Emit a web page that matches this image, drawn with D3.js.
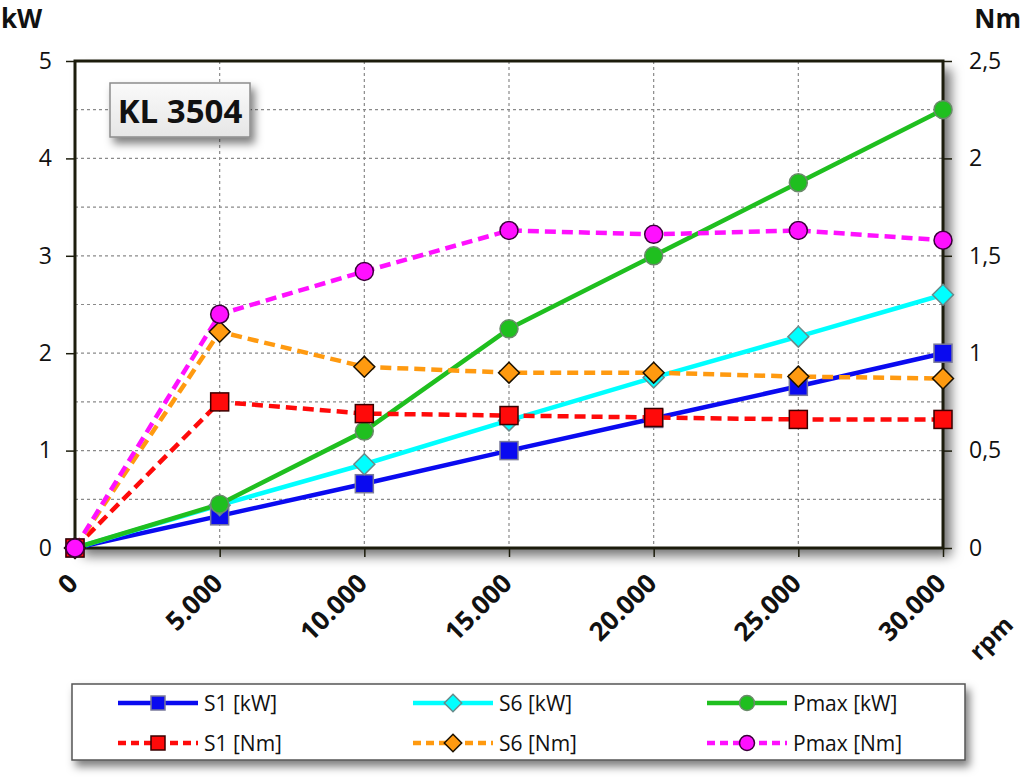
<!DOCTYPE html>
<html><head><meta charset="utf-8">
<script src="https://cdn.jsdelivr.net/npm/d3@7"></script>
<style>html,body{margin:0;padding:0;background:#fff;}svg{display:block;}</style>
</head><body>
<svg id="c" width="1024" height="783"></svg>
<script>
const rpm = [0, 5000, 10000, 15000, 20000, 25000, 30000];
const xTicks = [0, 5000, 10000, 15000, 20000, 25000, 30000];
const xTickLabels = ["0", "5.000", "10.000", "15.000", "20.000", "25.000", "30.000"];
const kwTicks = [0, 1, 2, 3, 4, 5];
const nmTicks = [0, 0.5, 1, 1.5, 2, 2.5];
const nmTickLabels = ["0", "0,5", "1", "1,5", "2", "2,5"];
const s1kW = [0, 0.33, 0.66, 1.0, 1.33, 1.66, 2.0];
const s6kW = [0, 0.44, 0.86, 1.31, 1.75, 2.17, 2.6];
const pmaxkW = [0, 0.45, 1.2, 2.25, 3.0, 3.75, 4.5];
const s1Nm = [0, 0.75, 0.69, 0.68, 0.67, 0.66, 0.66];
const s6Nm = [0, 1.11, 0.93, 0.9, 0.9, 0.88, 0.87];
const pmaxNm = [0, 1.2, 1.42, 1.63, 1.61, 1.63, 1.58];
const title = "KL 3504";

const series = [
  {name:"S1 [kW]", values:s1kW, axis:"kw", color:"#0a0af0", dash:null, marker:"square", stroke:"#7a7a9a"},
  {name:"S6 [kW]", values:s6kW, axis:"kw", color:"#00ffff", dash:null, marker:"diamond", stroke:"#6a8a8a"},
  {name:"Pmax [kW]", values:pmaxkW, axis:"kw", color:"#1fbf1f", dash:null, marker:"circle", stroke:"#6a8a6a"},
  {name:"S1 [Nm]", values:s1Nm, axis:"nm", color:"#ff0a0a", dash:"11,6", marker:"square", stroke:"#3a0000"},
  {name:"S6 [Nm]", values:s6Nm, axis:"nm", color:"#ff9a10", dash:"11,6", marker:"diamond", stroke:"#1a1000"},
  {name:"Pmax [Nm]", values:pmaxNm, axis:"nm", color:"#ff10ff", dash:"11,6", marker:"circle", stroke:"#3a003a"}
];

const svg = d3.select("#c");
const L = 75, T = 61, R = 943, B = 548;
const x = d3.scaleLinear().domain([0, 30000]).range([L, R]);
const yk = d3.scaleLinear().domain([0, 5]).range([B, T]);
const yn = d3.scaleLinear().domain([0, 2.5]).range([B, T]);

const defs = svg.append("defs");
const sh = defs.append("filter").attr("id","shadow").attr("x","-10%").attr("y","-10%").attr("width","130%").attr("height","140%");
sh.append("feDropShadow").attr("dx",8).attr("dy",8).attr("stdDeviation",6).attr("flood-color","#000").attr("flood-opacity",0.55);
const sh2 = defs.append("filter").attr("id","shadow2").attr("x","-10%").attr("y","-20%").attr("width","130%").attr("height","160%");
sh2.append("feDropShadow").attr("dx",4).attr("dy",6).attr("stdDeviation",4).attr("flood-color","#000").attr("flood-opacity",0.5);
const gr = defs.append("linearGradient").attr("id","tgrad").attr("x1",0).attr("y1",0).attr("x2",0).attr("y2",1);
gr.append("stop").attr("offset",0).attr("stop-color","#fafafa");
gr.append("stop").attr("offset",1).attr("stop-color","#e6e6e6");

// plot background with shadow
svg.append("rect").attr("x",L).attr("y",T).attr("width",R-L).attr("height",B-T)
  .attr("fill","#fff").attr("filter","url(#shadow)");

// grid
const grid = svg.append("g").attr("stroke","#8a8a8a").attr("stroke-width",1.2).attr("stroke-dasharray","3,3");
grid.selectAll("line.h").data(d3.range(0.5, 5, 0.5)).join("line")
  .attr("x1",L).attr("x2",R).attr("y1",d=>yk(d)).attr("y2",d=>yk(d));
grid.selectAll("line.v").data(xTicks.slice(1,-1)).join("line").attr("class","v")
  .attr("y1",T).attr("y2",B).attr("x1",d=>x(d)).attr("x2",d=>x(d));

// title box
const tb = svg.append("g");
tb.append("rect").attr("x",110).attr("y",83).attr("width",140).attr("height",54)
  .attr("fill","url(#tgrad)").attr("stroke","#8c8c8c").attr("stroke-width",1.5).attr("filter","url(#shadow2)");
tb.append("text").attr("x",180).attr("y",123).attr("text-anchor","middle")
  .attr("font-family","'Open Sans', sans-serif").attr("font-weight","bold").attr("font-size",33)
  .attr("fill","#111").text(title);

// frame
svg.append("rect").attr("x",L).attr("y",T).attr("width",R-L).attr("height",B-T)
  .attr("fill","none").attr("stroke","#1c1c0c").attr("stroke-width",3);

// axes
const fontT = "'Open Sans', sans-serif";
const axL = svg.append("g").attr("transform",`translate(${L},0)`)
  .call(d3.axisLeft(yk).tickValues(kwTicks).tickSize(9).tickPadding(14).tickFormat(d3.format("d")));
const axR = svg.append("g").attr("transform",`translate(${R},0)`)
  .call(d3.axisRight(yn).tickValues(nmTicks).tickSize(9).tickPadding(17).tickFormat((d,i)=>nmTickLabels[i]));
const axB = svg.append("g").attr("transform",`translate(0,${B})`)
  .call(d3.axisBottom(x).tickValues(xTicks).tickSize(9).tickFormat((d,i)=>xTickLabels[i]));
[axL, axR, axB].forEach(a=>{
  a.select(".domain").remove();
  a.selectAll(".tick line").attr("stroke","#1c1c0c").attr("stroke-width",1.5);
  a.selectAll("text").attr("font-family",fontT).attr("font-size",23).attr("fill","#111");
});
axB.selectAll("text").attr("font-weight","bold").attr("font-size",26)
  .attr("text-anchor","end").attr("dy",0).attr("y",0)
  .attr("transform","translate(4,37) rotate(-45)");

// axis titles
svg.append("text").attr("x",1).attr("y",28).attr("font-family",fontT).attr("font-weight","bold")
  .attr("font-size",26).attr("fill","#111").text("kW");
svg.append("text").attr("x",1021).attr("y",28).attr("text-anchor","end").attr("font-family",fontT).attr("font-weight","bold")
  .attr("font-size",26).attr("fill","#111").text("Nm");
svg.append("text").attr("transform","translate(997,644) rotate(-45)").attr("text-anchor","middle")
  .attr("font-family",fontT).attr("font-weight","bold").attr("font-size",24).attr("fill","#111").text("rpm");

// markers
function drawMarker(g, type, cx, cy, s, fill, stroke){
  if(type==="square"){
    g.append("rect").attr("x",cx-s/2).attr("y",cy-s/2).attr("width",s).attr("height",s)
      .attr("fill",fill).attr("stroke",stroke).attr("stroke-width",1.5);
  } else if(type==="diamond"){
    const r = s*0.58;
    g.append("path").attr("d",`M${cx},${cy-r}L${cx+r},${cy}L${cx},${cy+r}L${cx-r},${cy}Z`)
      .attr("fill",fill).attr("stroke",stroke).attr("stroke-width",1.5);
  } else {
    g.append("circle").attr("cx",cx).attr("cy",cy).attr("r",s/2)
      .attr("fill",fill).attr("stroke",stroke).attr("stroke-width",1.5);
  }
}

const plot = svg.append("g");
series.forEach(s=>{
  const y = s.axis==="kw" ? yk : yn;
  const line = d3.line().x((d,i)=>x(rpm[i])).y(d=>y(d));
  plot.append("path").datum(s.values).attr("d",line).attr("fill","none")
    .attr("stroke",s.color).attr("stroke-width",4.5).attr("stroke-dasharray",s.dash)
    .attr("stroke-linejoin","round");
});
series.forEach(s=>{
  const y = s.axis==="kw" ? yk : yn;
  const g = plot.append("g");
  s.values.forEach((v,i)=>drawMarker(g, s.marker, x(rpm[i]), y(v), 18, s.color, s.stroke));
});

// legend
const lg = svg.append("g");
lg.append("rect").attr("x",72).attr("y",684).attr("width",893).attr("height",76)
  .attr("fill","#fff").attr("stroke","#555").attr("stroke-width",1.5).attr("filter","url(#shadow2)");
const colX = [118, 413, 707];
const rowY = [703, 743];
series.forEach((s,i)=>{
  const cx0 = colX[i%3], cy = rowY[Math.floor(i/3)];
  const g = lg.append("g");
  g.append("line").attr("x1",cx0).attr("x2",cx0+80).attr("y1",cy).attr("y2",cy)
    .attr("stroke",s.color).attr("stroke-width",4.5).attr("stroke-dasharray",s.dash ? "8,5" : null);
  drawMarker(g, s.marker, cx0+40, cy, s.marker==="square"?14:15, s.color, s.stroke);
  g.append("text").attr("x",cx0+86).attr("y",cy+8).attr("font-family",fontT)
    .attr("font-size",21).attr("fill","#111").text(s.name);
});
</script>
</body></html>
